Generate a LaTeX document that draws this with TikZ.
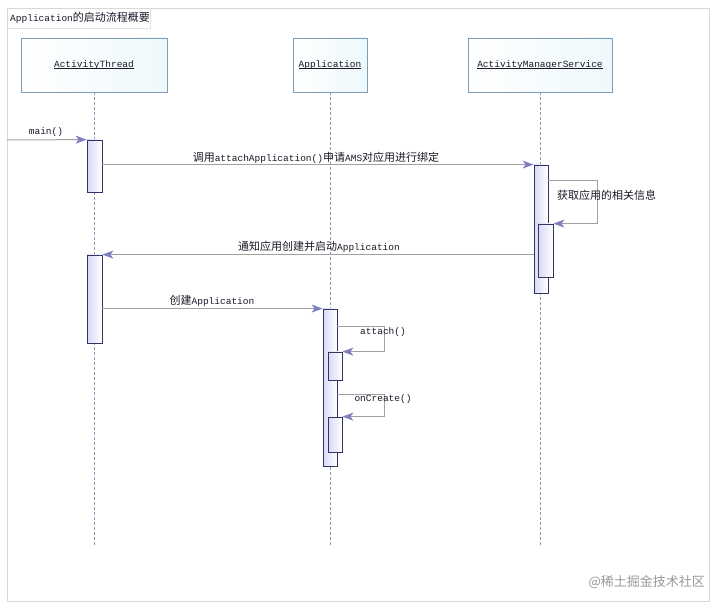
\documentclass[tikz,border=0pt]{standalone}
\usepackage{fontspec}
\setmonofont{Liberation Mono}
\newfontfamily\cjk{Noto Sans CJK SC}
\usetikzlibrary{arrows.meta,calc}
\definecolor{hdrborder}{HTML}{7F9DB9}
\definecolor{hdrfill}{HTML}{EEF8FB}
\definecolor{actborder}{HTML}{333366}
\definecolor{actfill}{HTML}{D8D8F6}
\definecolor{msgline}{HTML}{A0A0A0}
\definecolor{arrowc}{HTML}{7F7FC0}
\definecolor{txt}{HTML}{1A1A2A}
\definecolor{framec}{HTML}{D8D8D8}
\newcommand{\mt}[1]{{\ttfamily\fontsize{9.5pt}{11pt}\selectfont #1}}
\newcommand{\zh}[1]{{\cjk\fontsize{11pt}{13pt}\selectfont #1}}
\newcommand{\hdrtext}[1]{\mt{\setbox0\hbox{#1}\rlap{\rule[-1.6pt]{\wd0}{0.6pt}}\box0}}
\tikzset{
  hdr/.style={draw=hdrborder, line width=0.8pt, left color=white, right color=hdrfill, inner sep=0pt, text=txt},
  actbox/.style={draw=actborder, line width=0.8pt, left color=actfill, right color=white, inner sep=0pt, minimum width=15pt},
  lifeline/.style={draw=hdrborder, dashed, dash pattern=on 3pt off 2pt, line width=0.6pt},
  msg/.style={draw=msgline, line width=1pt, -{Stealth[length=11pt,width=8pt,inset=3pt,color=arrowc]}},
  lbl/.style={inner sep=0pt, text=txt}
}
\begin{document}
\begin{tikzpicture}[x=1pt, y=-1pt]
\useasboundingbox (0,0) rectangle (720,609);
\fill[white] (0,0) rectangle (720,609);
% frame
\draw[framec, line width=0.8pt] (7,8) rectangle (709,601);
\node[lbl, anchor=west] (title) at (10,18) {\mt{Application}\zh{的启动流程概要}};
\draw[framec!70, line width=0.6pt] (7,28) -- (150,28) -- (150,8);

% headers
\node[hdr, minimum width=146pt, minimum height=54pt] (at) at (94,65) {\hdrtext{ActivityThread}};
\node[hdr, minimum width=74pt, minimum height=54pt] (app) at (330,65) {\hdrtext{Application}};
\node[hdr, minimum width=144pt, minimum height=54pt] (ams) at (540,65) {\hdrtext{ActivityManagerService}};

% lifeline ends
\coordinate (atend) at (94,545);
\coordinate (append) at (330,545);
\coordinate (amsend) at (540,545);
\draw[lifeline] (at.south) -- (atend);
\draw[lifeline] (app.south) -- (append);
\draw[lifeline] (ams.south) -- (amsend);

% activation boxes
\node[actbox, minimum height=52pt] (at1) at (94.5,166) {};
\node[actbox, minimum height=88pt] (at2) at (94.5,299) {};
\node[actbox, minimum width=14pt, minimum height=128pt] (amsa) at (541,229) {};
\node[actbox, minimum height=53pt] (amsn) at (545.5,250.5) {};
\node[actbox, minimum width=14pt, minimum height=157pt] (appa) at (330,387.5) {};
\node[actbox, minimum width=14pt, minimum height=28pt] (appn1) at (335,366) {};
\node[actbox, minimum width=14pt, minimum height=35pt] (appn2) at (335,434.5) {};

% main()
\coordinate (mainstart) at (7,140);
\draw[msg] (mainstart) -- (at1.north west);
\node[lbl] (lmain) at (46,132) {\mt{main()}};

% attachApplication
\draw[msg] (amsa.north west -| at1.east) -- (amsa.north west);
\node[lbl] (l1) at (316,158) {\zh{调用}\mt{attachApplication()}\zh{申请}\mt{AMS}\zh{对应用进行绑定}};

% self message AMS
\coordinate (amsself) at (597,181);
\draw[msg] (amsself -| amsa.east) -- (amsself) -- (amsself |- amsn.north) -- (amsn.north east);
\node[lbl, anchor=west] (l2) at (557,195) {\zh{获取应用的相关信息}};

% notify
\draw[msg] (at2.north east -| amsa.west) -- (at2.north east);
\node[lbl] (l3) at (319,247) {\zh{通知应用创建并启动}\mt{Application}};

% create Application
\draw[msg] (appa.north west -| at2.east) -- (appa.north west);
\node[lbl] (l4) at (212,301) {\zh{创建}\mt{Application}};

% attach()
\coordinate (attself) at (384,327);
\draw[msg] (attself -| appa.east) -- (attself) -- (attself |- appn1.north) -- (appn1.north east);
\node[lbl] (l5) at (383,332) {\mt{attach()}};

% onCreate()
\coordinate (oncself) at (384,394);
\draw[msg] (oncself -| appa.east) -- (oncself) -- (oncself |- appn2.north) -- (appn2.north east);
\node[lbl] (l6) at (383,399) {\mt{onCreate()}};

% watermark
\node[inner sep=0pt, text=black!40, anchor=east] (wm) at (705,582) {{\cjk\fontsize{13pt}{15pt}\selectfont @稀土掘金技术社区}};
\end{tikzpicture}
\end{document}
